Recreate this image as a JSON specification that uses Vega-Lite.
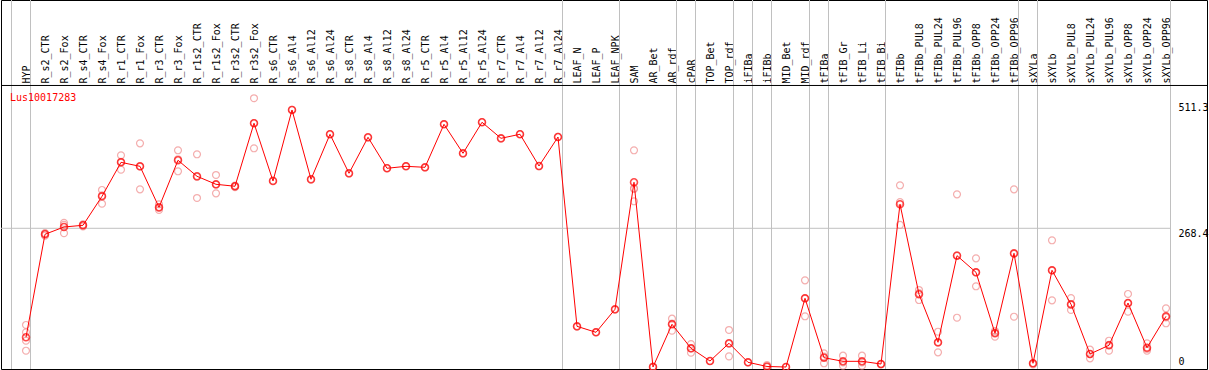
{
  "$schema": "https://vega.github.io/schema/vega-lite/v6.json",
  "width": 1206,
  "height": 369,
  "autosize": {"type": "none"},
  "padding": {"left": 1, "top": 0, "right": 2, "bottom": 1},
  "background": "white",
  "config": {"view": {"stroke": "black", "strokeWidth": 1}},
  "title": {"text": "Lus10017283", "anchor": "start", "frame": "group", "orient": "top", "offset": -103, "dx": 9, "color": "#ff0000", "font": "DejaVu Sans Mono", "fontSize": 10, "fontWeight": "normal"},
  "datasets": {
    "means": [
      {"c": "HYP", "v": 57.5}, {"c": "R_s2_CTR", "v": 256.8}, {"c": "R_s2_Fox", "v": 270.9}, {"c": "R_s4_CTR", "v": 274.2}, {"c": "R_s4_Fox", "v": 330.3},
      {"c": "R_r1_CTR", "v": 396.0}, {"c": "R_r1_Fox", "v": 388.3}, {"c": "R_r3_CTR", "v": 309.0}, {"c": "R_r3_Fox", "v": 400.0}, {"c": "R_r1s2_CTR", "v": 369.0},
      {"c": "R_r1s2_Fox", "v": 353.5}, {"c": "R_r3s2_CTR", "v": 349.7}, {"c": "R_r3s2_Fox", "v": 471.6}, {"c": "R_s6_CTR", "v": 359.9}, {"c": "R_s6_Al4", "v": 497.3},
      {"c": "R_s6_Al12", "v": 363.2}, {"c": "R_s6_Al24", "v": 450.3}, {"c": "R_s8_CTR", "v": 374.8}, {"c": "R_s8_Al4", "v": 444.5}, {"c": "R_s8_Al12", "v": 384.5},
      {"c": "R_s8_Al24", "v": 388.3}, {"c": "R_r5_CTR", "v": 386.4}, {"c": "R_r5_Al4", "v": 469.6}, {"c": "R_r5_Al12", "v": 413.5}, {"c": "R_r5_Al24", "v": 473.5},
      {"c": "R_r7_CTR", "v": 442.5}, {"c": "R_r7_Al4", "v": 450.3}, {"c": "R_r7_Al12", "v": 388.9}, {"c": "R_r7_Al24", "v": 445.0}, {"c": "LEAF_N", "v": 78.7},
      {"c": "LEAF_P", "v": 67.1}, {"c": "LEAF_NPK", "v": 111.6}, {"c": "SAM", "v": 357.4}, {"c": "AR_Bet", "v": 0}, {"c": "AR_rdf", "v": 82.6},
      {"c": "cPAR", "v": 36.2}, {"c": "TOP_Bet", "v": 11.6}, {"c": "TOP_rdf", "v": 45.9}, {"c": "iFIBa", "v": 9.1}, {"c": "iFIBb", "v": 1.0},
      {"c": "MID_Bet", "v": 0}, {"c": "MID_rdf", "v": 132.9}, {"c": "tFIBa", "v": 18.0}, {"c": "tFIB_Gr", "v": 11.0}, {"c": "tFIB_Li", "v": 11.0},
      {"c": "tFIB_Bi", "v": 5.8}, {"c": "tFIBb", "v": 315.0}, {"c": "tFIBb_PUL8", "v": 140.7}, {"c": "tFIBb_PUL24", "v": 47.8}, {"c": "tFIBb_PUL96", "v": 215.4},
      {"c": "tFIBb_OPP8", "v": 183.2}, {"c": "tFIBb_OPP24", "v": 65.2}, {"c": "tFIBb_OPP96", "v": 220.0}, {"c": "sXYLa", "v": 7.2}, {"c": "sXYLb", "v": 187.1},
      {"c": "sXYLb_PUL8", "v": 121.3}, {"c": "sXYLb_PUL24", "v": 25.2}, {"c": "sXYLb_PUL96", "v": 42.0}, {"c": "sXYLb_OPP8", "v": 123.8}, {"c": "sXYLb_OPP24", "v": 37.3},
      {"c": "sXYLb_OPP96", "v": 98.1}
    ],
    "reps": [
      {"c": "HYP", "v": 81.3}, {"c": "HYP", "v": 67.1}, {"c": "HYP", "v": 50.9}, {"c": "HYP", "v": 31.5},
      {"c": "R_s2_CTR", "v": 254}, {"c": "R_s2_CTR", "v": 258}, {"c": "R_s2_CTR", "v": 259},
      {"c": "R_s2_Fox", "v": 279}, {"c": "R_s2_Fox", "v": 259}, {"c": "R_s2_Fox", "v": 275},
      {"c": "R_s4_CTR", "v": 272}, {"c": "R_s4_CTR", "v": 276}, {"c": "R_s4_CTR", "v": 275},
      {"c": "R_s4_Fox", "v": 342.5}, {"c": "R_s4_Fox", "v": 316}, {"c": "R_s4_Fox", "v": 332},
      {"c": "R_r1_CTR", "v": 409.6}, {"c": "R_r1_CTR", "v": 381.8}, {"c": "R_r1_CTR", "v": 397},
      {"c": "R_r1_Fox", "v": 432.8}, {"c": "R_r1_Fox", "v": 343.8}, {"c": "R_r1_Fox", "v": 388},
      {"c": "R_r3_CTR", "v": 314.8}, {"c": "R_r3_CTR", "v": 303.8}, {"c": "R_r3_CTR", "v": 308},
      {"c": "R_r3_Fox", "v": 419.3}, {"c": "R_r3_Fox", "v": 378.7}, {"c": "R_r3_Fox", "v": 402},
      {"c": "R_r1s2_CTR", "v": 411.6}, {"c": "R_r1s2_CTR", "v": 327}, {"c": "R_r1s2_CTR", "v": 368},
      {"c": "R_r1s2_Fox", "v": 371.5}, {"c": "R_r1s2_Fox", "v": 336}, {"c": "R_r1s2_Fox", "v": 353},
      {"c": "R_r3s2_CTR", "v": 348}, {"c": "R_r3s2_CTR", "v": 351}, {"c": "R_r3s2_CTR", "v": 350},
      {"c": "R_r3s2_Fox", "v": 520}, {"c": "R_r3s2_Fox", "v": 423.2}, {"c": "R_r3s2_Fox", "v": 472},
      {"c": "R_s6_CTR", "v": 360.5}, {"c": "R_s6_Al4", "v": 497.8}, {"c": "R_s6_Al12", "v": 362.5}, {"c": "R_s6_Al24", "v": 450.8},
      {"c": "R_s8_CTR", "v": 374.3}, {"c": "R_s8_Al4", "v": 444.0}, {"c": "R_s8_Al12", "v": 384.9}, {"c": "R_s8_Al24", "v": 388.8},
      {"c": "R_r5_CTR", "v": 386.0}, {"c": "R_r5_Al4", "v": 470.1}, {"c": "R_r5_Al12", "v": 413.0}, {"c": "R_r5_Al24", "v": 474.0},
      {"c": "R_r7_CTR", "v": 442.0}, {"c": "R_r7_Al4", "v": 450.8}, {"c": "R_r7_Al12", "v": 388.4}, {"c": "R_r7_Al24", "v": 445.5},
      {"c": "LEAF_N", "v": 78.2}, {"c": "LEAF_P", "v": 67.6}, {"c": "LEAF_NPK", "v": 111.1},
      {"c": "SAM", "v": 419.3}, {"c": "SAM", "v": 346}, {"c": "SAM", "v": 344.4}, {"c": "SAM", "v": 320.6},
      {"c": "AR_Bet", "v": 0}, {"c": "AR_Bet", "v": 1},
      {"c": "AR_rdf", "v": 93.5}, {"c": "AR_rdf", "v": 70.3}, {"c": "AR_rdf", "v": 84},
      {"c": "cPAR", "v": 44.5}, {"c": "cPAR", "v": 27.7}, {"c": "cPAR", "v": 36},
      {"c": "TOP_Bet", "v": 11.6},
      {"c": "TOP_rdf", "v": 71.6}, {"c": "TOP_rdf", "v": 20.6}, {"c": "TOP_rdf", "v": 45},
      {"c": "iFIBa", "v": 9},
      {"c": "iFIBb", "v": 3.9}, {"c": "iFIBb", "v": 0},
      {"c": "MID_Bet", "v": 0},
      {"c": "MID_rdf", "v": 167.7}, {"c": "MID_rdf", "v": 98.1}, {"c": "MID_rdf", "v": 133},
      {"c": "tFIBa", "v": 26.5}, {"c": "tFIBa", "v": 7.2}, {"c": "tFIBa", "v": 20},
      {"c": "tFIB_Gr", "v": 21.9}, {"c": "tFIB_Gr", "v": 2.5}, {"c": "tFIB_Gr", "v": 9},
      {"c": "tFIB_Li", "v": 21.9}, {"c": "tFIB_Li", "v": 2.5}, {"c": "tFIB_Li", "v": 9},
      {"c": "tFIB_Bi", "v": 5.8}, {"c": "tFIB_Bi", "v": 5},
      {"c": "tFIBb", "v": 351.6}, {"c": "tFIBb", "v": 275}, {"c": "tFIBb", "v": 319},
      {"c": "tFIBb_PUL8", "v": 149}, {"c": "tFIBb_PUL8", "v": 129.6}, {"c": "tFIBb_PUL8", "v": 143},
      {"c": "tFIBb_PUL24", "v": 68.3}, {"c": "tFIBb_PUL24", "v": 28.4}, {"c": "tFIBb_PUL24", "v": 47},
      {"c": "tFIBb_PUL96", "v": 334.1}, {"c": "tFIBb_PUL96", "v": 95.4}, {"c": "tFIBb_PUL96", "v": 216},
      {"c": "tFIBb_OPP8", "v": 210.3}, {"c": "tFIBb_OPP8", "v": 156.2}, {"c": "tFIBb_OPP8", "v": 183},
      {"c": "tFIBb_OPP24", "v": 69.7}, {"c": "tFIBb_OPP24", "v": 58.6}, {"c": "tFIBb_OPP24", "v": 67},
      {"c": "tFIBb_OPP96", "v": 343.8}, {"c": "tFIBb_OPP96", "v": 97.3}, {"c": "tFIBb_OPP96", "v": 219},
      {"c": "sXYLa", "v": 7.2}, {"c": "sXYLa", "v": 5},
      {"c": "sXYLb", "v": 245.2}, {"c": "sXYLb", "v": 129}, {"c": "sXYLb", "v": 187},
      {"c": "sXYLb_PUL8", "v": 133.5}, {"c": "sXYLb_PUL8", "v": 110.3}, {"c": "sXYLb_PUL8", "v": 120},
      {"c": "sXYLb_PUL24", "v": 33.5}, {"c": "sXYLb_PUL24", "v": 16.8}, {"c": "sXYLb_PUL24", "v": 25},
      {"c": "sXYLb_PUL96", "v": 50.9}, {"c": "sXYLb_PUL96", "v": 31.5}, {"c": "sXYLb_PUL96", "v": 43},
      {"c": "sXYLb_OPP8", "v": 141.3}, {"c": "sXYLb_OPP8", "v": 107}, {"c": "sXYLb_OPP8", "v": 123},
      {"c": "sXYLb_OPP24", "v": 45.9}, {"c": "sXYLb_OPP24", "v": 31.5}, {"c": "sXYLb_OPP24", "v": 35},
      {"c": "sXYLb_OPP96", "v": 113.6}, {"c": "sXYLb_OPP96", "v": 84.6}, {"c": "sXYLb_OPP96", "v": 96}
    ],
    "seps": [
      {"c": "HYP"}, {"c": "R_r7_Al24"}, {"c": "LEAF_NPK"}, {"c": "AR_rdf"}, {"c": "cPAR"}, {"c": "TOP_rdf"}, {"c": "iFIBa"},
      {"c": "iFIBb"}, {"c": "MID_rdf"}, {"c": "tFIBa"}, {"c": "tFIB_Bi"}, {"c": "tFIBb_OPP96"}, {"c": "sXYLa"}, {"c": "sXYLb_OPP96"}
    ],
    "one": [{}]
  },
  "layer": [
    {
      "data": {"name": "means"},
      "mark": {"type": "point", "opacity": 0},
      "encoding": {
        "x": {"field": "c", "type": "nominal", "sort": null,
          "scale": {"type": "point", "padding": 0, "range": [25, 1165],
            "domain": ["HYP","R_s2_CTR","R_s2_Fox","R_s4_CTR","R_s4_Fox","R_r1_CTR","R_r1_Fox","R_r3_CTR","R_r3_Fox","R_r1s2_CTR","R_r1s2_Fox","R_r3s2_CTR","R_r3s2_Fox","R_s6_CTR","R_s6_Al4","R_s6_Al12","R_s6_Al24","R_s8_CTR","R_s8_Al4","R_s8_Al12","R_s8_Al24","R_r5_CTR","R_r5_Al4","R_r5_Al12","R_r5_Al24","R_r7_CTR","R_r7_Al4","R_r7_Al12","R_r7_Al24","LEAF_N","LEAF_P","LEAF_NPK","SAM","AR_Bet","AR_rdf","cPAR","TOP_Bet","TOP_rdf","iFIBa","iFIBb","MID_Bet","MID_rdf","tFIBa","tFIB_Gr","tFIB_Li","tFIB_Bi","tFIBb","tFIBb_PUL8","tFIBb_PUL24","tFIBb_PUL96","tFIBb_OPP8","tFIBb_OPP24","tFIBb_OPP96","sXYLa","sXYLb","sXYLb_PUL8","sXYLb_PUL24","sXYLb_PUL96","sXYLb_OPP8","sXYLb_OPP24","sXYLb_OPP96"]},
          "axis": {"orient": "top", "offset": -85, "title": null, "ticks": false, "domain": false,
            "labelAngle": 270, "labelAlign": "left", "labelBaseline": "middle", "labelPadding": 2, "labelFont": "DejaVu Sans Mono",
            "labelFontSize": 10, "labelColor": "black", "labelOverlap": false, "labelBound": false, "grid": false}},
        "y": {"field": "v", "type": "quantitative",
          "scale": {"domain": [-3.87, 710.1], "nice": false, "zero": false},
          "axis": {"orient": "right", "offset": -29, "values": [0, 268.4, 511.3], "title": null, "domain": false, "ticks": false, "grid": false,
            "labelPadding": 0, "labelAlign": "left", "labelFont": "DejaVu Sans Mono", "labelFontSize": 10, "labelColor": "black",
            "labelBaseline": {"condition": {"test": "datum.value == 0", "value": "bottom"}, "value": "top"},
            "labelExpr": "'' + datum.value", "labelOverlap": false, "labelBound": false}}
      }
    },
    {
      "data": {"name": "seps"},
      "mark": {"type": "rule", "color": "#c0c0c0", "strokeWidth": 1, "xOffset": 4.5},
      "encoding": {"x": {"field": "c", "type": "nominal", "sort": null}}
    },
    {
      "data": {"name": "one"},
      "mark": {"type": "rule", "color": "#c0c0c0", "strokeWidth": 1, "xOffset": -14.5},
      "encoding": {"x": {"datum": "HYP", "type": "nominal"}}
    },
    {
      "data": {"name": "one"},
      "mark": {"type": "rule", "color": "#c0c0c0", "strokeWidth": 1, "xOffset": -25, "x2Offset": 4.5},
      "encoding": {
        "x": {"datum": "HYP", "type": "nominal"},
        "x2": {"datum": "sXYLb_OPP96"},
        "y": {"datum": 268.4, "type": "quantitative"}
      }
    },
    {
      "data": {"name": "one"},
      "mark": {"type": "rule", "color": "black", "strokeWidth": 1},
      "encoding": {
        "y": {"datum": 544.7, "type": "quantitative"}
      }
    },
    {
      "data": {"name": "reps"},
      "mark": {"type": "point", "shape": "circle", "filled": false, "size": 48, "strokeWidth": 1.2, "color": "#f08c8c"},
      "encoding": {
        "x": {"field": "c", "type": "nominal", "sort": null},
        "y": {"field": "v", "type": "quantitative"}
      }
    },
    {
      "data": {"name": "means"},
      "mark": {"type": "line", "color": "#ff0000", "strokeWidth": 1},
      "encoding": {
        "x": {"field": "c", "type": "nominal", "sort": null},
        "y": {"field": "v", "type": "quantitative"}
      }
    },
    {
      "data": {"name": "means"},
      "mark": {"type": "point", "shape": "circle", "filled": false, "size": 48, "strokeWidth": 1.6, "color": "#ff0000"},
      "encoding": {
        "x": {"field": "c", "type": "nominal", "sort": null},
        "y": {"field": "v", "type": "quantitative"}
      }
    }
  ]
}
